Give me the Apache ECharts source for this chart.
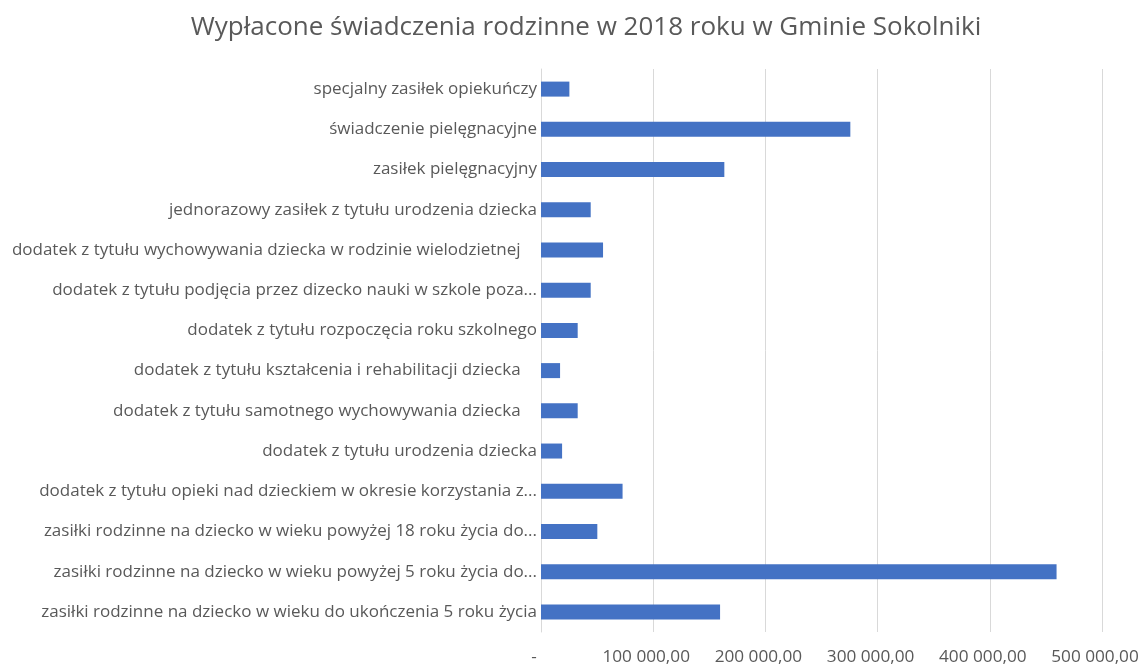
<!DOCTYPE html>
<html>
<head>
<meta charset="utf-8">
<script src="https://cdn.jsdelivr.net/npm/echarts@6/dist/echarts.min.js"></script>
<style>
html,body{margin:0;padding:0;background:#fff;}
#c{width:1144px;height:666px;}
</style>
</head>
<body>
<div id="c"></div>
<script>
const titleText = 'Wypłacone świadczenia rodzinne w 2018 roku w Gminie Sokolniki';
const categories = [
  'specjalny zasiłek opiekuńczy',
  'świadczenie pielęgnacyjne',
  'zasiłek pielęgnacyjny',
  'jednorazowy zasiłek z tytułu urodzenia dziecka',
  'dodatek z tytułu wychowywania dziecka w rodzinie wielodzietnej ',
  'dodatek z tytułu podjęcia przez dizecko nauki w szkole poza...',
  'dodatek z tytułu rozpoczęcia roku szkolnego',
  'dodatek z tytułu kształcenia i rehabilitacji dziecka ',
  'dodatek z tytułu samotnego wychowywania dziecka ',
  'dodatek z tytułu urodzenia dziecka',
  'dodatek z tytułu opieki nad dzieckiem w okresie korzystania z...',
  'zasiłki rodzinne na dziecko w wieku powyżej 18 roku życia do...',
  'zasiłki rodzinne na dziecko w wieku powyżej 5 roku życia do...',
  'zasiłki rodzinne na dziecko w wieku do ukończenia 5 roku życia'
];
const values = [25300, 275700, 163400, 44300, 55300, 44300, 32700, 17000, 32700, 18800, 72700, 50200, 459500, 159600];
const axisMin = 0, axisMax = 500000, axisStep = 100000;

function fmt(v){
  if (v === 0) return '-';
  const s = String(Math.round(v)).replace(/\B(?=(\d{3})+(?!\d))/g, ' ');
  return s + ',00';
}

// labels ending with a space sit a little further from the axis, as in the original
const categoryItems = categories.map(function (c) {
  return / $/.test(c) ? { value: c, textStyle: { padding: [0, 12, 0, 0] } } : c;
});

const chart = echarts.init(document.getElementById('c'));
chart.setOption({
  backgroundColor: '#ffffff',
  textStyle: { fontFamily: 'Open Sans' },
  title: {
    text: titleText,
    left: 581,
    textAlign: 'center',
    top: 10,
    textStyle: { fontFamily: 'Open Sans', fontSize: 26, fontWeight: 'normal', color: '#595959' }
  },
  grid: { left: 541, right: 42, top: 69, bottom: 33, containLabel: false },
  xAxis: {
    type: 'value',
    min: axisMin, max: axisMax, interval: axisStep,
    axisLine: { show: false },
    axisTick: { show: false },
    splitLine: { show: true, lineStyle: { color: '#d9d9d9', width: 1 } },
    axisLabel: { formatter: fmt, color: '#595959', fontSize: 17.2, margin: 17, padding: [0, 14, 0, 0], fontFamily: 'Open Sans' }
  },
  yAxis: {
    type: 'category',
    data: categoryItems,
    inverse: true,
    axisLine: { show: true, lineStyle: { color: '#d9d9d9' } },
    axisTick: { show: false },
    axisLabel: { color: '#595959', fontSize: 17, margin: 4, fontFamily: 'Open Sans' }
  },
  series: [{
    type: 'bar',
    data: values,
    barWidth: 15,
    itemStyle: { color: '#4472c4' },
    silent: true
  }]
});
</script>
</body>
</html>
